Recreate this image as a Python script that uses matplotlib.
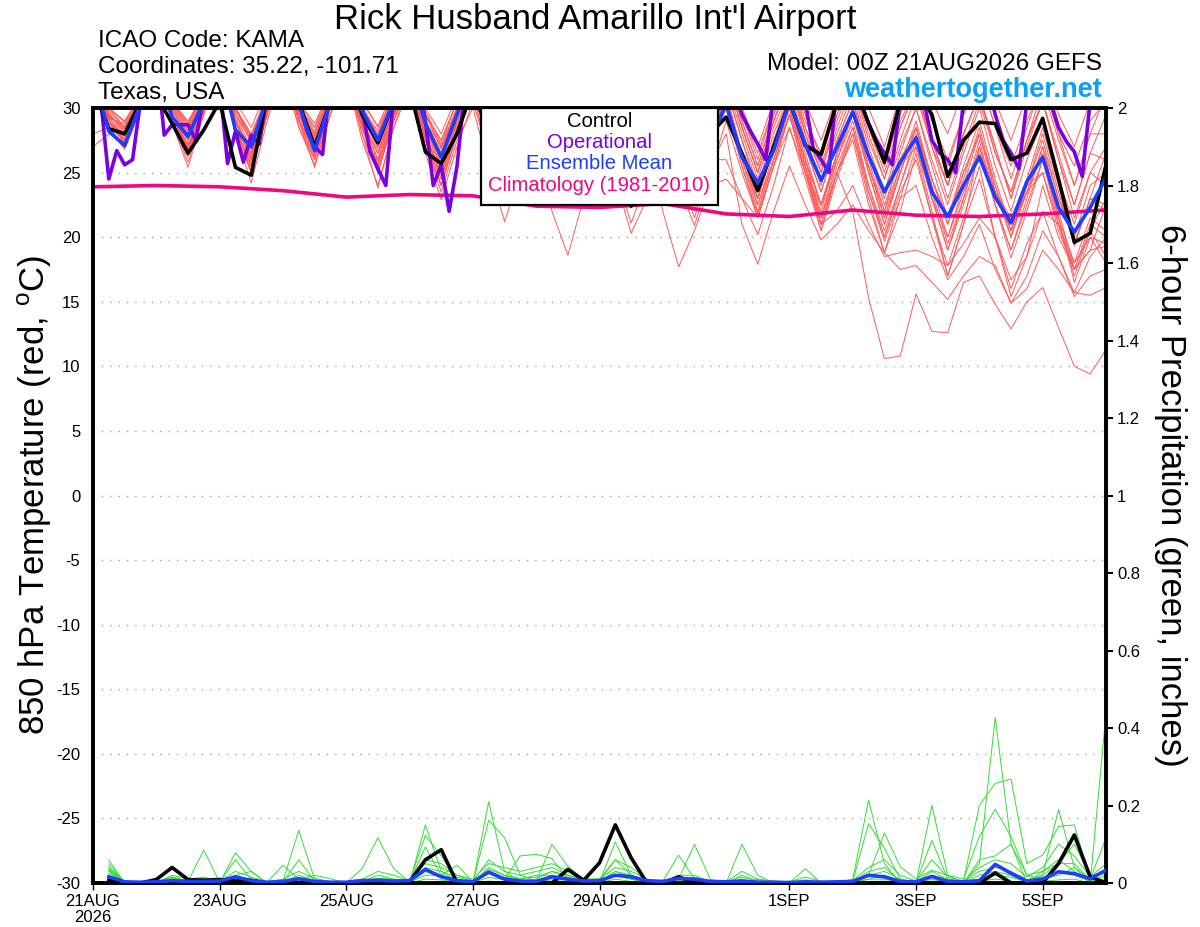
import matplotlib
matplotlib.use('Agg')
import matplotlib.pyplot as plt
import numpy as np
from matplotlib.patches import Rectangle

plt.rcParams['font.family'] = ['Liberation Sans', 'DejaVu Sans']

# ---------------- DATA ----------------
title = "Rick Husband Amarillo Int'l Airport"
icao_text = "ICAO Code: KAMA"
coord_text = "Coordinates: 35.22, -101.71"
place_text = "Texas, USA"
model_text = "Model: 00Z 21AUG2026 GEFS"
site_text = "weathertogether.net"

tick_days = [0, 2, 4, 6, 8, 11, 13, 15]
tick_labels = ["21AUG\n2026", "23AUG", "25AUG", "27AUG", "29AUG", "1SEP", "3SEP", "5SEP"]

temp_ticks = [-30, -25, -20, -15, -10, -5, 0, 5, 10, 15, 20, 25, 30]
precip_ticks = [0, 0.2, 0.4, 0.6, 0.8, 1.0, 1.2, 1.4, 1.6, 1.8, 2.0]

legend_labels = ["Control", "Operational", "Ensemble Mean", "Climatology (1981-2010)"]

# 6-hourly (65 points, 0..384 h)
ens_mean = [32.5, 28.2, 27.1, 30.3, 33.5, 29.3, 27.8, 30.5, 33.5, 28.3,
            27.0, 30.8, 33.5, 30.3, 26.7, 30.5, 33.5, 29.8, 27.5, 30.5,
            33.0, 28.8, 26.2, 29.5, 32.5, 28.5, 25.5, 28.5, 31.5, 28.0,
            25.0, 28.0, 31.0, 27.5, 24.5, 27.5, 30.5, 27.5, 24.5, 27.5,
            30.3, 26.2, 24.2, 26.7, 30.5, 27.2, 24.4, 27.0, 29.7, 26.3,
            23.5, 25.8, 27.7, 23.5, 21.6, 24.0, 26.2, 23.1, 21.1, 24.3,
            26.2, 22.3, 20.4, 22.3, 24.6]

control = [31.5, 28.4, 28.0, 30.5, 31.0, 28.8, 26.5, 28.3, 30.5, 25.4,
           24.8, 31.0, 33.0, 30.5, 27.0, 30.5, 33.0, 29.5, 27.3, 30.5,
           31.5, 26.6, 25.7, 28.0, 31.5, 28.0, 25.0, 28.0, 31.0, 27.0,
           24.5, 27.5, 29.5, 25.5, 22.4, 25.5, 29.0, 26.5, 24.0, 28.0,
           29.3, 26.5, 23.6, 27.0, 30.5, 27.1, 26.4, 30.5, 32.0, 28.8,
           25.8, 30.5, 31.5, 29.5, 24.7, 27.5, 28.9, 28.8, 26.0, 26.5,
           29.2, 24.5, 19.6, 20.3, 25.6]

# 3-hourly operational (129 points)
operational = [32.0, 30.5, 24.5, 26.7, 25.6, 26.0, 30.5, 33.0,
               34.0, 27.9, 28.7, 28.7, 28.7, 27.5, 31.0, 33.0,
               32.0, 25.7, 28.2, 25.8, 27.9, 27.2, 31.0, 33.0,
               34.0, 33.0, 30.5, 28.3, 27.0, 26.4, 32.0, 33.0,
               34.0, 32.0, 30.0, 26.6, 25.3, 24.0, 31.0, 33.0,
               34.0, 32.5, 29.0, 24.0, 25.6, 22.0, 25.5, 31.5,
               33.0, 32.0, 29.0, 27.0, 25.5, 26.0, 29.0, 32.0,
               33.0, 31.0, 28.0, 26.0, 25.0, 27.0, 30.0, 32.0,
               33.0, 31.0, 28.0, 26.0, 24.5, 26.0, 29.0, 32.0,
               33.0, 31.0, 28.5, 26.5, 25.0, 27.0, 30.0, 32.0,
               33.0, 31.5, 29.5, 28.3, 27.2, 26.0, 31.0, 33.0,
               34.0, 33.0, 30.5, 26.9, 26.0, 25.0, 32.0, 33.0,
               31.0, 30.5, 28.8, 27.5, 26.5, 25.6, 30.5, 33.0,
               33.0, 30.5, 27.5, 26.5, 26.0, 25.0, 30.5, 32.0,
               33.0, 32.0, 29.5, 27.5, 26.5, 25.3, 30.5, 32.0,
               33.0, 30.5, 28.5, 27.4, 26.6, 24.7, 30.5, 32.0,
               33.0]

# daily climatology (17 points)
climatology = [23.9, 24.0, 23.9, 23.6, 23.1, 23.3, 23.2, 22.4, 22.3,
               22.6, 21.8, 21.6, 22.1, 21.7, 21.6, 21.8, 22.1]

# ensemble members, 850 hPa temperature, 6-hourly
ens_t01 = [33.0, 29.8, 28.5, 30.8, 34.0, 30.5, 28.8, 31.0, 34.0, 30.0, 28.0, 31.0, 34.5, 30.5, 28.5, 31.5,
           34.5, 30.5, 28.5, 31.0, 34.0, 29.5, 27.5, 30.5, 33.5, 29.5, 27.0, 30.5, 33.0, 29.0, 26.5, 30.0,
           33.5, 29.5, 27.0, 30.5, 33.5, 29.5, 27.0, 30.5, 33.5, 30.0, 27.0, 30.5, 34.0, 30.5, 27.5, 31.0,
           33.5, 30.0, 27.0, 31.0, 34.0, 30.5, 28.0, 31.5, 34.0, 30.5, 27.5, 31.0, 33.5, 29.5, 27.0, 30.5, 33.0]
ens_t02 = [32.5, 28.8, 27.5, 30.2, 33.5, 29.8, 28.0, 30.8, 33.5, 29.0, 26.8, 30.5, 34.0, 30.0, 27.8, 31.0,
           33.5, 29.5, 27.0, 30.5, 33.5, 29.0, 26.5, 30.0, 33.0, 28.5, 25.5, 29.5, 32.5, 28.0, 25.0, 29.0,
           32.5, 28.5, 25.5, 29.5, 32.0, 28.0, 25.5, 29.5, 32.5, 28.5, 25.0, 29.0, 32.5, 28.0, 25.0, 29.5,
           32.0, 27.5, 24.5, 28.5, 31.5, 27.0, 24.0, 28.0, 31.0, 26.5, 23.5, 27.5, 30.5, 26.0, 22.5, 26.5, 29.5]
ens_t03 = [28.0, 28.5, 27.8, 30.5, 33.0, 29.5, 27.0, 30.0, 33.5, 28.5, 26.2, 30.0, 33.5, 29.5, 27.2, 30.5,
           33.0, 28.5, 25.8, 29.5, 32.5, 27.5, 24.5, 28.5, 31.0, 26.5, 23.5, 26.0, 27.0, 22.0, 18.6, 23.0,
           28.0, 24.5, 22.8, 27.0, 30.5, 27.0, 24.5, 28.0, 31.0, 26.5, 23.0, 27.0, 30.5, 26.0, 22.5, 26.5,
           30.0, 25.5, 21.5, 25.0, 28.5, 23.5, 19.5, 23.0, 27.0, 22.5, 19.0, 22.5, 26.0, 21.0, 17.0, 20.5, 23.0]
ens_t04 = [27.0, 28.0, 27.3, 30.0, 33.5, 29.5, 27.5, 30.5, 33.5, 29.0, 26.5, 30.5, 34.0, 29.5, 27.0, 30.5,
           33.5, 29.0, 26.0, 30.0, 33.0, 28.5, 25.5, 29.5, 32.5, 28.0, 25.0, 29.0, 32.0, 27.5, 24.5, 28.5,
           31.5, 27.5, 24.0, 28.0, 31.5, 27.5, 24.0, 27.5, 31.0, 26.5, 22.5, 26.0, 29.5, 25.0, 21.5, 25.0,
           22.0, 15.3, 10.6, 10.8, 15.6, 12.7, 12.6, 16.5, 17.0, 14.8, 12.9, 15.0, 16.1, 13.0, 10.0, 9.4, 11.3]
ens_t05 = [31.5, 28.5, 27.0, 30.0, 33.0, 29.0, 26.5, 30.0, 33.0, 28.0, 25.0, 29.5, 33.0, 28.5, 26.0, 29.5,
           32.5, 28.0, 25.0, 29.0, 32.0, 27.0, 24.0, 28.0, 31.0, 26.5, 23.5, 27.5, 30.5, 26.0, 23.0, 27.0,
           30.0, 25.5, 22.5, 26.5, 29.5, 25.0, 21.5, 25.5, 28.0, 21.0, 17.9, 22.0, 25.5, 22.5, 19.8, 21.0,
           22.5, 20.5, 18.8, 17.5, 17.8, 16.5, 15.2, 17.0, 18.5, 17.8, 14.9, 16.0, 19.0, 17.5, 15.7, 18.5, 20.0]
ens_t06 = [33.0, 29.5, 28.2, 30.8, 34.5, 30.5, 29.0, 31.0, 34.0, 29.5, 27.5, 31.0, 34.5, 30.0, 28.5, 31.0,
           34.0, 29.5, 28.0, 31.0, 33.5, 29.5, 27.5, 30.5, 33.5, 29.0, 26.5, 30.0, 33.0, 29.0, 26.0, 30.0,
           33.0, 29.0, 26.0, 29.5, 32.5, 28.5, 25.5, 29.5, 32.5, 28.5, 25.0, 29.0, 32.0, 27.5, 24.5, 28.0,
           31.0, 26.5, 22.5, 26.0, 28.5, 24.5, 21.5, 25.0, 28.0, 23.5, 20.5, 24.0, 27.5, 23.0, 19.5, 23.0, 26.5]
ens_t07 = [32.0, 29.0, 27.8, 30.5, 33.5, 29.5, 27.5, 30.5, 33.5, 29.0, 26.0, 30.0, 33.5, 29.5, 27.5, 30.5,
           33.0, 29.0, 26.5, 30.0, 32.5, 28.0, 25.0, 29.0, 31.5, 27.5, 24.5, 28.5, 31.0, 27.0, 24.0, 28.0,
           30.0, 26.5, 23.5, 27.0, 22.0, 17.7, 20.5, 24.0, 24.5, 23.0, 21.5, 25.5, 28.5, 25.0, 22.5, 26.5,
           29.5, 25.5, 22.0, 25.5, 27.0, 23.0, 20.0, 23.5, 26.5, 23.0, 21.0, 23.5, 25.0, 21.0, 18.0, 20.0, 19.5]
ens_t08 = [32.5, 29.0, 27.2, 30.0, 33.5, 29.5, 26.5, 30.0, 33.0, 28.5, 25.5, 29.5, 33.5, 29.0, 26.0, 30.0,
           33.0, 28.5, 25.0, 29.5, 32.0, 27.0, 23.5, 27.5, 30.0, 25.5, 21.2, 25.0, 29.5, 25.5, 22.5, 27.0,
           30.0, 25.0, 21.1, 24.5, 28.5, 24.0, 20.9, 25.0, 29.0, 25.0, 21.5, 25.5, 29.5, 25.0, 20.5, 24.5,
           28.0, 23.5, 19.7, 23.0, 24.0, 20.0, 16.7, 18.5, 21.0, 17.5, 14.9, 17.0, 20.5, 18.5, 15.7, 15.5, 16.1]
ens_t09 = [33.0, 29.5, 28.0, 30.5, 34.0, 30.0, 27.8, 30.5, 33.5, 29.0, 26.5, 30.0, 33.5, 29.5, 26.5, 30.0,
           33.0, 29.0, 26.0, 30.0, 32.5, 28.0, 24.5, 28.5, 31.5, 27.0, 24.0, 28.0, 30.5, 26.5, 23.0, 27.0,
           29.5, 24.5, 20.3, 23.0, 27.5, 24.5, 22.0, 26.0, 26.0, 23.0, 20.2, 24.0, 28.5, 24.5, 20.5, 25.0,
           27.5, 22.5, 18.8, 22.0, 26.5, 21.5, 17.8, 21.5, 25.5, 20.0, 15.4, 18.5, 24.0, 20.0, 17.5, 19.0, 19.3]
ens_t10 = [32.0, 29.2, 28.8, 30.8, 34.0, 30.5, 28.5, 31.0, 34.0, 30.0, 27.8, 31.0, 34.0, 30.0, 28.0, 31.0,
           34.0, 30.0, 27.8, 31.0, 33.5, 29.0, 27.0, 30.0, 33.0, 28.5, 26.0, 29.5, 32.5, 28.0, 25.5, 29.5,
           32.5, 28.5, 25.5, 29.5, 32.5, 28.5, 25.5, 29.5, 32.0, 28.0, 24.5, 28.5, 31.5, 27.0, 23.5, 27.5,
           30.5, 26.0, 22.0, 26.5, 30.0, 25.5, 21.5, 25.5, 29.0, 24.5, 20.5, 24.5, 28.5, 24.0, 19.3, 23.0, 22.0]
ens_t11 = [32.0, 28.5, 26.8, 29.8, 33.0, 29.0, 25.8, 29.5, 33.0, 28.0, 24.2, 29.0, 33.0, 28.5, 25.6, 29.5,
           32.5, 27.5, 24.0, 28.5, 31.5, 26.5, 22.9, 27.0, 30.5, 26.5, 22.8, 27.5, 30.5, 26.5, 23.0, 27.5,
           31.0, 26.5, 23.0, 27.0, 30.5, 26.0, 22.8, 27.0, 30.5, 26.0, 22.0, 26.0, 30.0, 25.5, 22.0, 26.5,
           29.5, 25.0, 21.0, 25.0, 28.5, 24.5, 21.0, 25.0, 28.0, 23.5, 20.0, 23.5, 27.0, 22.0, 17.5, 21.0, 20.0]
ens_t12 = [33.5, 30.0, 28.5, 31.0, 34.0, 30.5, 28.2, 31.0, 34.0, 30.0, 27.2, 30.5, 34.0, 30.0, 27.8, 31.0,
           34.0, 30.0, 27.2, 30.5, 33.5, 29.5, 26.8, 30.0, 33.0, 29.5, 26.5, 30.5, 33.5, 30.0, 27.0, 30.5,
           33.5, 29.5, 26.5, 30.5, 33.0, 29.5, 26.5, 30.0, 33.0, 29.5, 26.0, 30.0, 33.0, 29.5, 26.0, 30.0,
           32.5, 29.0, 25.5, 29.5, 32.5, 29.0, 25.5, 29.5, 32.5, 28.5, 24.5, 28.5, 32.0, 28.0, 24.0, 28.0, 31.0]
ens_t13 = [32.8, 29.0, 27.6, 30.2, 33.5, 29.0, 26.2, 29.8, 33.0, 28.5, 25.2, 29.5, 33.5, 29.0, 26.2, 30.0,
           33.0, 28.5, 25.2, 29.0, 32.5, 28.0, 25.0, 29.0, 32.0, 27.5, 24.5, 28.5, 31.5, 27.0, 24.0, 28.0,
           31.0, 27.0, 24.0, 28.0, 31.0, 27.0, 23.5, 27.5, 30.5, 26.5, 23.0, 27.0, 30.5, 26.0, 22.5, 26.5,
           29.5, 25.0, 21.0, 25.0, 28.5, 24.0, 20.0, 24.0, 28.0, 24.0, 20.5, 23.5, 26.5, 21.5, 16.5, 20.0, 18.0]
ens_t14 = [31.0, 28.8, 28.0, 30.3, 33.5, 29.5, 27.2, 30.2, 33.5, 29.0, 26.0, 30.0, 33.5, 29.5, 27.0, 30.5,
           33.5, 29.0, 26.5, 30.0, 33.0, 28.5, 26.0, 29.5, 32.5, 28.5, 25.5, 29.5, 32.0, 28.0, 25.0, 29.0,
           32.0, 28.0, 24.5, 28.5, 31.5, 27.5, 24.0, 28.0, 31.5, 27.5, 23.5, 27.5, 31.0, 26.5, 22.5, 26.0,
           29.0, 24.0, 20.5, 24.0, 27.5, 23.0, 19.0, 22.5, 26.5, 22.5, 19.0, 23.0, 27.0, 23.0, 20.0, 24.0, 25.0]
ens_t15 = [33.0, 29.5, 28.4, 30.6, 33.5, 29.5, 27.0, 30.5, 33.5, 29.5, 26.8, 30.5, 33.5, 29.5, 27.3, 30.5,
           33.5, 29.0, 26.5, 30.0, 33.0, 28.5, 25.8, 29.5, 32.5, 28.0, 25.0, 29.0, 32.0, 27.5, 24.5, 28.5,
           31.5, 27.0, 24.0, 28.0, 31.0, 27.0, 24.0, 28.0, 31.0, 26.5, 23.0, 27.0, 30.0, 25.5, 21.5, 25.5,
           28.5, 24.0, 20.0, 23.5, 26.0, 21.5, 17.0, 21.0, 24.5, 20.0, 16.0, 19.5, 22.0, 18.5, 15.4, 17.0, 17.5]
ens_t16 = [32.2, 29.3, 28.6, 30.7, 33.8, 30.2, 28.0, 30.7, 33.8, 29.5, 27.5, 30.8, 34.0, 30.0, 27.5, 30.8,
           33.8, 29.8, 27.5, 30.8, 33.5, 29.0, 26.5, 30.0, 33.0, 29.0, 26.0, 30.0, 32.5, 28.5, 26.0, 29.5,
           32.5, 28.5, 25.5, 29.5, 32.0, 28.5, 25.5, 29.0, 32.5, 29.0, 25.5, 29.5, 32.5, 28.5, 25.5, 29.5,
           32.0, 28.5, 25.0, 29.0, 31.5, 27.5, 24.0, 28.0, 31.0, 27.0, 23.0, 27.0, 30.5, 26.0, 21.5, 25.0, 24.0]
ens_t17 = [31.8, 28.3, 27.0, 30.0, 33.0, 28.8, 25.4, 29.5, 33.0, 28.5, 25.0, 29.5, 33.5, 29.0, 25.4, 29.5,
           33.0, 28.0, 23.8, 28.5, 32.0, 27.5, 24.0, 28.5, 32.0, 27.5, 24.0, 28.5, 31.5, 27.0, 23.5, 28.0,
           31.0, 26.5, 23.0, 27.5, 30.5, 26.5, 23.0, 27.0, 30.0, 25.5, 21.8, 26.0, 29.5, 25.0, 21.0, 22.0,
           24.0, 21.0, 18.5, 18.8, 19.0, 18.5, 17.8, 19.5, 21.5, 20.0, 16.7, 18.5, 22.0, 21.0, 17.5, 19.0, 22.5]
ens_t18 = [33.2, 29.6, 28.2, 30.6, 34.0, 30.0, 28.3, 30.8, 34.0, 29.8, 27.8, 31.0, 34.0, 30.0, 28.0, 31.0,
           34.0, 30.0, 28.2, 31.0, 33.5, 29.5, 27.0, 30.0, 33.0, 29.0, 26.5, 30.0, 33.0, 29.0, 26.5, 30.0,
           33.0, 29.0, 26.0, 30.0, 33.0, 29.0, 26.0, 30.0, 33.0, 29.0, 25.5, 29.5, 32.5, 28.5, 25.0, 29.0,
           32.0, 28.0, 24.5, 28.5, 31.5, 27.5, 24.0, 28.0, 31.0, 27.0, 23.0, 27.5, 31.5, 27.5, 24.0, 28.0, 28.0]
ens_t19 = [32.0, 28.6, 27.4, 30.0, 33.5, 29.5, 26.8, 30.0, 33.5, 28.5, 25.5, 29.8, 33.5, 29.0, 26.8, 30.0,
           33.0, 28.5, 25.5, 29.5, 32.5, 27.5, 24.0, 28.0, 31.5, 27.0, 23.5, 27.5, 31.0, 26.5, 23.0, 27.5,
           31.0, 26.5, 23.0, 27.0, 30.5, 26.5, 23.0, 27.0, 30.0, 25.5, 21.5, 25.5, 29.5, 25.0, 21.0, 25.0,
           28.0, 23.0, 18.8, 23.0, 27.0, 22.0, 17.0, 21.0, 27.0, 23.5, 21.5, 24.0, 25.0, 20.5, 17.5, 20.5, 18.5]
ens_t20 = [33.0, 30.0, 29.0, 31.0, 34.5, 30.5, 28.8, 31.5, 34.5, 30.5, 28.5, 31.5, 34.5, 30.5, 28.8, 31.5,
           34.5, 30.5, 28.6, 31.5, 34.0, 30.0, 28.0, 31.0, 34.0, 30.0, 27.5, 31.0, 33.5, 29.5, 27.0, 30.5,
           33.5, 29.5, 26.5, 30.0, 33.5, 29.5, 26.5, 30.5, 33.5, 29.5, 26.5, 30.0, 33.0, 29.0, 26.5, 30.0,
           33.0, 29.0, 26.0, 30.0, 33.0, 29.0, 26.0, 29.5, 32.5, 28.5, 25.5, 29.0, 32.0, 28.0, 25.5, 29.0, 30.5]
ens_t21 = [32.6, 29.2, 27.9, 30.4, 33.8, 29.8, 27.6, 30.6, 33.8, 29.2, 26.4, 30.2, 34.0, 29.8, 27.6, 30.6,
           33.6, 29.4, 26.8, 30.2, 33.0, 28.6, 26.0, 29.6, 32.5, 28.5, 25.5, 29.5, 32.0, 28.0, 25.0, 29.0,
           32.0, 28.0, 25.0, 29.0, 31.5, 27.5, 24.5, 28.5, 31.5, 27.5, 24.0, 28.0, 31.0, 27.0, 23.5, 27.5,
           30.5, 26.5, 23.0, 27.0, 30.0, 26.0, 22.5, 26.5, 30.0, 25.5, 22.0, 26.0, 29.0, 24.5, 21.0, 25.0, 27.0]
ens_t22 = [31.5, 28.2, 26.9, 29.9, 33.2, 29.0, 26.4, 29.8, 33.2, 28.4, 25.6, 29.6, 33.6, 29.2, 26.4, 30.0,
           33.2, 28.6, 25.0, 29.2, 32.5, 27.8, 24.8, 28.8, 32.0, 27.5, 24.0, 28.5, 31.5, 27.0, 23.5, 28.0,
           31.5, 27.0, 23.5, 27.5, 31.0, 26.5, 23.0, 27.0, 30.5, 26.0, 22.5, 26.5, 30.0, 25.5, 21.0, 25.0,
           28.5, 23.5, 20.0, 24.0, 28.0, 23.0, 19.0, 23.0, 27.5, 22.5, 18.4, 22.0, 26.0, 21.5, 18.0, 21.5, 20.5]
ens_t23 = [33.4, 30.0, 28.9, 31.0, 34.2, 30.2, 28.6, 31.2, 34.2, 30.0, 27.6, 31.0, 34.2, 30.2, 28.2, 31.0,
           34.2, 30.2, 27.9, 31.0, 33.8, 29.8, 27.2, 30.5, 33.5, 29.5, 26.5, 30.0, 33.0, 29.0, 26.0, 30.0,
           33.0, 29.0, 25.5, 29.5, 32.5, 28.5, 25.0, 29.0, 32.5, 28.5, 25.0, 29.0, 32.0, 28.0, 24.0, 28.5,
           31.5, 27.0, 23.5, 27.5, 31.0, 27.0, 23.0, 27.0, 30.5, 26.5, 23.5, 27.5, 30.5, 26.5, 22.5, 26.5, 26.0]
ens_t24 = [32.9, 29.4, 27.3, 30.3, 33.6, 29.4, 26.8, 30.2, 33.6, 29.0, 25.8, 30.0, 33.8, 29.6, 26.7, 30.2,
           33.4, 28.8, 25.6, 29.6, 32.8, 28.2, 25.4, 29.2, 32.5, 28.0, 25.0, 29.0, 32.0, 27.5, 24.5, 28.5,
           31.5, 27.0, 24.0, 28.0, 31.5, 27.0, 23.5, 27.5, 31.0, 26.5, 23.0, 27.0, 30.5, 26.0, 21.5, 26.0,
           29.5, 25.5, 21.5, 25.5, 29.0, 24.5, 21.0, 24.5, 28.5, 24.0, 20.0, 24.0, 28.0, 23.5, 19.5, 23.0, 22.5]

temp_members = [ens_t01, ens_t02, ens_t03, ens_t04, ens_t05, ens_t06, ens_t07, ens_t08,
                ens_t09, ens_t10, ens_t11, ens_t12, ens_t13, ens_t14, ens_t15, ens_t16,
                ens_t17, ens_t18, ens_t19, ens_t20, ens_t21, ens_t22, ens_t23, ens_t24]

# 6-hour precipitation (inches), forecast steps 1..64
control_precip = [.007, 0, 0, .009, .04, .009, .007, .009, .005, .007, 0, 0, 0, 0, 0, 0,
                  0, 0, 0, .003, .06, .086, 0, 0, 0, 0, 0, 0, 0, .035, .007, .052,
                  .15, .065, 0, 0, .016, 0, 0, 0, 0, 0, 0, 0, 0, 0, 0, 0,
                  0, 0, 0, 0, 0, 0, 0, 0, .026, 0, 0, 0, .05, .124, .016, 0]
mean_precip = [.016, .003, .002, .003, .006, .004, .004, .005, .016, .006, .002, .004, .011, .004, .002, .002,
               .006, .007, .005, .006, .035, .016, .006, .003, .028, .01, .005, .004, .016, .01, .005, .006,
               .02, .016, .006, .004, .012, .01, .004, .003, .005, .002, .002, .001, .003, .002, .003, .004,
               .02, .016, .004, .003, .017, .004, .003, .006, .048, .025, .005, .01, .029, .024, .011, .033]

ens_p01 = [.059, 0, 0, .002, .015, .004, .085, .002, 0, .005, 0, .004, .136, .01, .002, 0,
           .004, .01, .003, 0, .15, .03, .005, 0, .21, .03, .005, .004, .02, .01, 0, .003,
           .02, .01, 0, .005, .072, .01, 0, 0, .01, 0, 0, 0, .005, 0, 0, .01,
           .214, .05, 0, 0, .2, .02, 0, .05, .427, .1, 0, .02, .19, .04, 0, .437]
ens_p02 = [.05, 0, 0, 0, .012, .008, .01, 0, .078, .03, 0, .002, .06, .004, 0, 0,
           .037, .117, .037, .003, .123, .07, .01, 0, .162, .117, .02, .005, .1, .043, .01, .005,
           .06, .04, .01, 0, .01, .1, .01, 0, .1, .02, 0, 0, .037, 0, 0, .005,
           .153, .09, .01, 0, .11, .01, .005, .2, .257, .268, .05, .072, .146, .15, .01, .116]
ens_p03 = [.041, .002, 0, .003, .015, .005, .012, .002, .06, .008, .002, .046, .01, .02, .011, 0,
           0, .01, .005, .002, .093, .02, .046, .003, .03, .01, .07, .074, .063, .01, .005, .003,
           .106, .02, .005, 0, 0, .01, 0, 0, 0, .01, 0, 0, 0, 0, .005, 0,
           .02, .129, .042, .01, .033, .02, .01, .12, .19, .12, .02, .03, .05, .1, .02, .024]
ens_p04 = [.033, 0, 0, .002, .006, .002, .004, 0, .01, .002, 0, 0, .004, 0, 0, 0,
           .004, .006, .004, .002, .02, .02, .01, 0, .04, .02, .005, .01, .03, .015, .005, 0,
           .02, .01, 0, 0, 0, 0, 0, .004, .004, 0, 0, .005, 0, 0, 0, 0,
           .01, .02, .004, 0, .01, 0, 0, .06, .07, .1, .02, .01, .02, .04, .01, .01]
ens_p05 = [.03, 0, 0, 0, .008, 0, .006, .003, .02, .03, 0, 0, .008, .003, 0, .002,
           .005, .02, .01, .005, .05, .04, .02, .005, .06, .03, .02, .03, .04, .02, .01, .01,
           .06, .02, .005, 0, .02, .02, .003, 0, .02, .005, 0, 0, 0, 0, 0, .002,
           .03, .04, .005, 0, .02, .01, 0, .02, .03, .02, 0, .03, .06, .03, .005, .02]
ens_p06 = [.025, .002, 0, 0, .01, .004, .003, .002, .006, .004, .002, .002, .02, .006, .002, .004,
           .01, .008, .006, 0, .03, .015, .004, .002, .025, .015, .01, .02, .02, .005, .003, .002,
           .03, .015, .004, .002, .004, .008, .002, 0, .004, .002, 0, .002, .002, 0, .002, 0,
           .01, .01, .002, 0, .005, .003, 0, .01, .02, .015, .003, .015, .03, .02, .004, .008]
ens_p07 = [.02, 0, 0, 0, .004, .002, .002, 0, .004, .002, 0, 0, .005, 0, 0, 0,
           .003, .004, .002, 0, .01, .008, .002, 0, .015, .008, .004, .004, .008, .003, 0, 0,
           .01, .004, 0, 0, .002, .004, .002, 0, .002, 0, 0, 0, .002, .003, 0, 0,
           .004, .005, 0, 0, .004, 0, 0, .005, .01, .005, 0, .004, .008, .01, 0, .004]
ens_p08 = [.015, 0, 0, 0, 0, 0, 0, 0, .002, 0, 0, 0, .002, 0, 0, 0,
           0, .002, 0, 0, .004, .002, 0, 0, .005, .002, 0, .002, .004, 0, 0, 0,
           .004, 0, 0, 0, 0, 0, 0, 0, 0, 0, 0, 0, 0, 0, 0, 0,
           0, 0, 0, 0, 0, 0, 0, 0, .004, .002, 0, 0, .003, 0, 0, 0]
ens_p09 = [.04, .003, 0, 0, .02, .01, .015, .005, .03, .015, .003, .01, .03, .012, .004, .002,
           .01, .03, .02, .005, .06, .05, .02, .01, .05, .04, .03, .04, .05, .03, .01, .01,
           .04, .03, .01, .004, .01, .015, .005, .003, .03, .01, .005, .003, .015, .005, .002, .006,
           .04, .06, .02, .005, .06, .015, .005, .04, .06, .05, .015, .04, .1, .07, .015, .05]
ens_p10 = [.035, .002, 0, 0, .01, .006, .01, .002, .015, .01, 0, .004, .012, .004, .002, 0,
           .006, .012, .01, .002, .04, .03, .015, .004, .035, .02, .012, .015, .03, .02, .006, .004,
           .03, .02, .006, .002, .006, .01, .003, .002, .015, .005, .002, .002, .008, .003, 0, .004,
           .02, .03, .01, .002, .03, .008, .003, .03, .04, .03, .008, .02, .05, .05, .008, .03]

precip_members = [ens_p01, ens_p02, ens_p03, ens_p04, ens_p05,
                  ens_p06, ens_p07, ens_p08, ens_p09, ens_p10]

# ---------------- PLOT ----------------
W, H = 1200, 927
fig = plt.figure(figsize=(W / 100, H / 100), dpi=100)
L, R, T, B = 93, 1106, 108, 883
ax = fig.add_axes([L / W, 1 - B / H, (R - L) / W, (B - T) / H])

h6 = np.arange(len(ens_mean)) * 6
h3 = np.arange(len(operational)) * 3
hp = np.arange(1, len(control_precip) + 1) * 6
hc = np.arange(len(climatology)) * 24

red = '#ff5a5a'
for m in temp_members:
    ax.plot(h6, m, color=red, lw=0.7, zorder=2)
ax.plot(hc, climatology, color='#f0067f', lw=2.6, zorder=3)
ax.plot(h3, operational, color='#7a00dd', lw=2.6, zorder=4)
ax.plot(h6, control, color='black', lw=2.6, zorder=5)
ax.plot(h6, ens_mean, color='#1f3dff', lw=2.6, zorder=6)

ax.set_xlim(0, 384)
ax.set_ylim(-30, 30)
ax.set_yticks(temp_ticks)
ax.set_yticklabels([str(t) for t in temp_ticks])
ax.yaxis.grid(True, linestyle=(0, (1, 5)), color='#a0a0a0', lw=1.0)
ax.set_axisbelow(True)
ax.tick_params(axis='y', length=0, pad=9, labelsize=12)
ax.set_xticks([d * 24 for d in tick_days])
ax.set_xticklabels(tick_labels, linespacing=1.05)
ax.tick_params(axis='x', length=5, width=1, direction='out', pad=3, labelsize=12)
for s in ax.spines.values():
    s.set_linewidth(2.6)

ax2 = ax.twinx()
ax2.set_ylim(0, 2)
for m in precip_members:
    ax2.plot(hp, m, color='#33dd33', lw=0.7, zorder=2)
ax2.plot(hp, control_precip, color='black', lw=2.6, zorder=4)
ax2.plot(hp, mean_precip, color='#1f3dff', lw=2.6, zorder=5)
ax2.set_yticks(precip_ticks)
ax2.set_yticklabels(['%g' % p for p in precip_ticks])
ax2.tick_params(axis='y', length=5, width=1.5, direction='out', pad=3, labelsize=12)
for s in ax2.spines.values():
    s.set_linewidth(2.6)

# legend box
ax2.add_patch(Rectangle(((481 - L) / (R - L), 1 - (205 - T) / (B - T)),
                        (718 - 481) / (R - L), (205 - T) / (B - T),
                        transform=ax2.transAxes, facecolor='white', edgecolor='black',
                        lw=1.6, zorder=20, clip_on=False))
leg_colors = ['black', '#7a00dd', '#1f3dff', '#f0067f']
leg_y = [121, 142, 163, 185]
leg_x = ((481 + 718) / 2 - L) / (R - L)
for lab, c, yy in zip(legend_labels, leg_colors, leg_y):
    ax2.text(leg_x, 1 - (yy - T) / (B - T), lab, color=c,
             fontsize=14.6, ha='center', va='center', transform=ax2.transAxes, zorder=21)

# header texts
fig.text(595 / W, 1 - 20 / H, title, ha='center', va='center', fontsize=25)
fig.text(98 / W, 1 - 41 / H, icao_text, ha='left', va='center', fontsize=17.5)
fig.text(98 / W, 1 - 67 / H, coord_text, ha='left', va='center', fontsize=17.5)
fig.text(98 / W, 1 - 93 / H, place_text, ha='left', va='center', fontsize=17.5)
fig.text(1102 / W, 1 - 64 / H, model_text, ha='right', va='center', fontsize=17.5)
fig.text(1102 / W, 1 - 90 / H, site_text, ha='right', va='center', fontsize=19.5,
         fontweight='bold', color='#09a0f5')

fig.text(35 / W, 1 - 495 / H, "850 hPa Temperature (red, $^\\mathregular{o}$C)",
         rotation=90, ha='center', va='center', fontsize=25)
fig.text(1170 / W, 1 - 495 / H, "6-hour Precipitation (green, inches)",
         rotation=270, ha='center', va='center', fontsize=25)

fig.savefig('out.png', dpi=100)
